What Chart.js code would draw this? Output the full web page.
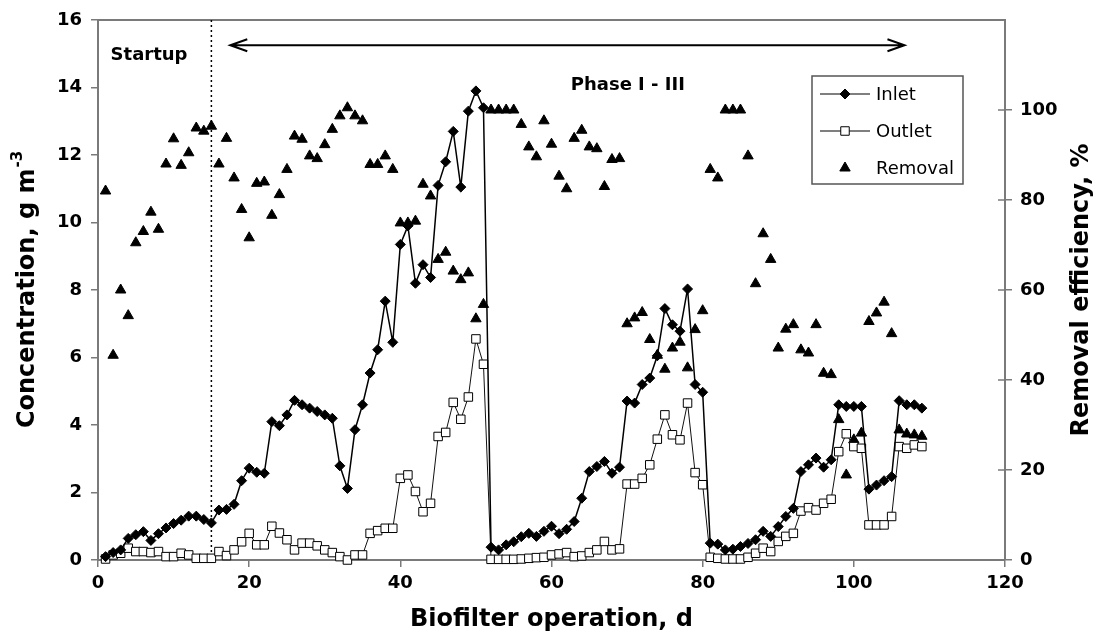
<!DOCTYPE html>
<html>
<head>
<meta charset="utf-8">
<script src="https://cdn.jsdelivr.net/npm/chart.js@4.4.0/dist/chart.umd.min.js"></script>
<style>
  html, body { margin: 0; padding: 0; background: #fff; }
</style>
</head>
<body>
<canvas id="chart" width="1099" height="641"></canvas>
<script>
// operation day of each sample
var days = [
    1, 2, 3, 4, 5, 6, 7, 8, 9, 10, 11, 12, 13, 14, 15, 16, 17, 18, 19, 20,
    21, 22, 23, 24, 25, 26, 27, 28, 29, 30, 31, 32, 33, 34, 35, 36, 37, 38, 39, 40,
    41, 42, 43, 44, 45, 46, 47, 48, 49, 50, 51, 52, 53, 54, 55, 56, 57, 58, 59, 60,
    61, 62, 63, 64, 65, 66, 67, 68, 69, 70, 71, 72, 73, 74, 75, 76, 77, 78, 79, 80,
    81, 82, 83, 84, 85, 86, 87, 88, 89, 90, 91, 92, 93, 94, 95, 96, 97, 98, 99, 100,
    101, 102, 103, 104, 105, 106, 107, 108, 109
];
// inlet concentration, g m-3
var inletConc = [
    0.1, 0.22, 0.3, 0.64, 0.75, 0.84, 0.58, 0.78, 0.95, 1.08, 1.18, 1.3, 1.3, 1.2, 1.1, 1.48, 1.5, 1.65, 2.35, 2.72,
    2.6, 2.57, 4.1, 3.98, 4.3, 4.73, 4.6, 4.5, 4.4, 4.3, 4.2, 2.79, 2.12, 3.86, 4.6, 5.54, 6.23, 7.67, 6.45, 9.35,
    9.9, 8.2, 8.75, 8.37, 11.1, 11.8, 12.7, 11.05, 13.3, 13.9, 13.4, 0.38, 0.3, 0.45, 0.54, 0.69, 0.79, 0.7, 0.85, 1.0,
    0.78, 0.91, 1.14, 1.83, 2.62, 2.77, 2.92, 2.57, 2.75, 4.71, 4.65, 5.2, 5.39, 6.05, 7.45, 6.97, 6.78, 8.03, 5.2, 4.97,
    0.5, 0.47, 0.3, 0.32, 0.4, 0.49, 0.6, 0.85, 0.7, 0.99, 1.29, 1.53, 2.62, 2.82, 3.02, 2.75, 2.97, 4.6, 4.55, 4.55,
    4.55, 2.1, 2.22, 2.35, 2.47, 4.72, 4.6, 4.6, 4.5
];
// outlet concentration, g m-3
var outletConc = [
    0.03, 0.15, 0.2, 0.35, 0.25, 0.25, 0.22, 0.25, 0.1, 0.1, 0.2, 0.15, 0.05, 0.05, 0.05, 0.25, 0.13, 0.3, 0.54, 0.79,
    0.45, 0.45, 1.0, 0.8, 0.6, 0.3, 0.5, 0.5, 0.42, 0.3, 0.22, 0.1, 0.0, 0.15, 0.15, 0.79, 0.87, 0.94, 0.94, 2.42,
    2.52, 2.03, 1.43, 1.68, 3.66, 3.78, 4.67, 4.17, 4.83, 6.55, 5.8, 0.02, 0.02, 0.02, 0.02, 0.03, 0.05, 0.07, 0.08, 0.15,
    0.18, 0.22, 0.1, 0.12, 0.22, 0.3, 0.55, 0.3, 0.33, 2.25, 2.25, 2.42, 2.82, 3.58, 4.3, 3.71, 3.56, 4.65, 2.59, 2.23,
    0.08, 0.05, 0.03, 0.03, 0.03, 0.08, 0.2, 0.35, 0.25, 0.55, 0.7, 0.79, 1.45, 1.55, 1.48, 1.68, 1.8, 3.21, 3.74, 3.36,
    3.31, 1.04, 1.04, 1.04, 1.29, 3.36, 3.31, 3.41, 3.36
];
// removal efficiency, %
var removalEff = [
    82, 45.5, 60, 54.3, 70.5, 73, 77.3, 73.5, 88, 93.6, 87.7, 90.5, 96, 95.3, 96.4, 88, 93.7, 84.9, 77.9, 71.6,
    83.7, 84, 76.6, 81.2, 86.8, 94.2, 93.5, 89.8, 89.2, 92.3, 95.7, 98.7, 100.5, 98.7, 97.6, 87.9, 87.9, 89.8, 86.8, 74.9,
    74.9, 75.3, 83.5, 80.9, 66.8, 68.4, 64.2, 62.3, 63.8, 53.6, 56.8, 100, 100, 100, 100, 96.8, 91.8, 89.6, 97.6, 92.4,
    85.3, 82.5, 93.7, 95.5, 91.8, 91.4, 83, 89, 89.2, 52.5, 53.8, 55, 49, 45.5, 42.4, 47.1, 48.4, 42.7, 51.2, 55.4,
    86.8, 84.9, 100, 100, 100, 89.8, 61.4, 72.5, 66.8, 47.1, 51.3, 52.3, 46.7, 46, 52.3, 41.5, 41.2, 31.2, 18.9, 26.7,
    28.2, 53, 54.9, 57.3, 50.3, 28.9, 28, 27.8, 27.5
];

var dayTicks = [0, 20, 40, 60, 80, 100, 120];
var concTicks = [0, 2, 4, 6, 8, 10, 12, 14, 16];
var effTicks = [0, 20, 40, 60, 80, 100];

var startupEnd = 15;          // dotted line, day
var phaseFrom = 17.5, phaseTo = 106.7, phaseLevel = 15.25;

var AXIS = '#7a7a7a';
var FONT = "'DejaVu Sans', sans-serif";

function points(vals) {
    return days.map(function (d, i) { return { x: d, y: vals[i] }; });
}
function useTicks(list) {
    return function (scale) {
        scale.ticks = list.map(function (v) { return { value: v }; });
    };
}

function marker(ctx, style, x, y, r, fill) {
    ctx.beginPath();
    if (style === 'rectRot') {
        ctx.moveTo(x, y - r); ctx.lineTo(x + r, y); ctx.lineTo(x, y + r); ctx.lineTo(x - r, y);
    } else if (style === 'rect') {
        var s = r * Math.SQRT1_2;
        ctx.rect(x - s, y - s, 2 * s, 2 * s);
    } else {
        ctx.moveTo(x, y - r);
        ctx.lineTo(x + r * 0.866, y + r * 0.5);
        ctx.lineTo(x - r * 0.866, y + r * 0.5);
    }
    ctx.closePath();
    ctx.fillStyle = fill;
    ctx.fill();
    ctx.lineWidth = 1;
    ctx.strokeStyle = '#000';
    ctx.stroke();
}

var annotations = {
    id: 'annotations',
    beforeDatasetsDraw: function (chart) {
        var ctx = chart.ctx, a = chart.chartArea;
        var x = chart.scales.x, y = chart.scales.y, y1 = chart.scales.y1;
        ctx.save();
        // top frame line
        ctx.strokeStyle = AXIS;
        ctx.lineWidth = 2;
        ctx.beginPath();
        ctx.moveTo(a.left, a.top);
        ctx.lineTo(a.right, a.top);
        ctx.stroke();
        // right axis ticks cross the axis
        ctx.lineWidth = 1.5;
        effTicks.forEach(function (v) {
            var py = y1.getPixelForValue(v);
            ctx.beginPath();
            ctx.moveTo(a.right - 7, py);
            ctx.lineTo(a.right, py);
            ctx.stroke();
        });
        // end of startup
        var px = x.getPixelForValue(startupEnd);
        ctx.strokeStyle = '#000';
        ctx.lineWidth = 1.5;
        ctx.setLineDash([2, 3]);
        ctx.beginPath();
        ctx.moveTo(px, a.top);
        ctx.lineTo(px, a.bottom);
        ctx.stroke();
        ctx.setLineDash([]);
        // phase arrow
        var ax0 = x.getPixelForValue(phaseFrom), ax1 = x.getPixelForValue(phaseTo);
        var ay = y.getPixelForValue(phaseLevel);
        ctx.lineWidth = 2;
        ctx.beginPath();
        ctx.moveTo(ax0, ay); ctx.lineTo(ax1, ay);
        ctx.moveTo(ax0 + 17, ay - 6); ctx.lineTo(ax0, ay); ctx.lineTo(ax0 + 17, ay + 6);
        ctx.moveTo(ax1 - 17, ay - 6); ctx.lineTo(ax1, ay); ctx.lineTo(ax1 - 17, ay + 6);
        ctx.stroke();
        // texts
        ctx.fillStyle = '#000';
        ctx.font = 'bold 18px ' + FONT;
        ctx.textAlign = 'center';
        ctx.textBaseline = 'middle';
        ctx.fillText('Startup', x.getPixelForValue(6.75), y.getPixelForValue(14.96));
        ctx.fillText('Phase I - III', x.getPixelForValue(70.1), y.getPixelForValue(14.07));
        ctx.restore();
    },
    afterDraw: function (chart) {
        var ctx = chart.ctx, a = chart.chartArea;
        ctx.save();
        // legend
        var bx = 812, by = 76, bw = 151, bh = 108;
        ctx.fillStyle = '#fff';
        ctx.fillRect(bx, by, bw, bh);
        ctx.strokeStyle = '#555';
        ctx.lineWidth = 1.5;
        ctx.strokeRect(bx, by, bw, bh);
        var rows = [
            { label: chart.data.datasets[0].label, style: 'rectRot', fill: '#000', line: true, r: 5, y: 94 },
            { label: chart.data.datasets[1].label, style: 'rect', fill: '#fff', line: true, r: 6, y: 131 },
            { label: chart.data.datasets[2].label, style: 'triangle', fill: '#000', line: false, r: 6, y: 168 }
        ];
        rows.forEach(function (row) {
            if (row.line) {
                ctx.strokeStyle = '#000';
                ctx.lineWidth = 1.2;
                ctx.beginPath();
                ctx.moveTo(820, row.y); ctx.lineTo(870, row.y);
                ctx.stroke();
            }
            marker(ctx, row.style, 845, row.y, row.r, row.fill);
            ctx.fillStyle = '#000';
            ctx.font = '18px ' + FONT;
            ctx.textAlign = 'left';
            ctx.textBaseline = 'middle';
            ctx.fillText(row.label, 876, row.y + 1);
        });
        // axis titles
        var cy = (a.top + a.bottom) / 2;
        ctx.fillStyle = '#000';
        ctx.textBaseline = 'middle';
        ctx.font = 'bold 24px ' + FONT;
        var main = 'Concentration, g m', sup = '-3';
        var w1 = ctx.measureText(main).width;
        ctx.font = 'bold 15px ' + FONT;
        var w2 = ctx.measureText(sup).width;
        ctx.save();
        ctx.translate(28, cy);
        ctx.rotate(-Math.PI / 2);
        ctx.textAlign = 'left';
        ctx.font = 'bold 24px ' + FONT;
        ctx.fillText(main, -(w1 + w2) / 2, 0);
        ctx.font = 'bold 15px ' + FONT;
        ctx.fillText(sup, -(w1 + w2) / 2 + w1 + 1, -10);
        ctx.restore();

        ctx.save();
        ctx.translate(1082, cy);
        ctx.rotate(-Math.PI / 2);
        ctx.textAlign = 'center';
        ctx.font = 'bold 24px ' + FONT;
        ctx.fillText('Removal efficiency, %', 0, 0);
        ctx.restore();

        ctx.textAlign = 'center';
        ctx.font = 'bold 24px ' + FONT;
        ctx.fillText('Biofilter operation, d', (a.left + a.right) / 2, 620);
        ctx.restore();
    }
};

var axisGrid = { display: true, drawOnChartArea: false, drawTicks: true, tickLength: 7, color: AXIS, lineWidth: 1.5 };
var axisBorder = { display: true, color: AXIS, width: 2 };
var tickFont = { family: FONT, size: 18, weight: 'bold' };

window.onload = function () {
    var ctx = document.getElementById('chart').getContext('2d');
    window.biofilterChart = new Chart(ctx, {
        type: 'line',
        data: {
            datasets: [{
                label: 'Inlet',
                data: points(inletConc),
                yAxisID: 'y',
                borderColor: '#000',
                borderWidth: 1.5,
                pointStyle: 'rectRot',
                pointRadius: 5,
                pointBackgroundColor: '#000',
                pointBorderColor: '#000',
                pointBorderWidth: 1,
                tension: 0,
                clip: false
            }, {
                label: 'Outlet',
                data: points(outletConc),
                yAxisID: 'y',
                borderColor: '#111',
                borderWidth: 1,
                pointStyle: 'rect',
                pointRadius: 6,
                pointBackgroundColor: '#fff',
                pointBorderColor: '#000',
                pointBorderWidth: 1,
                tension: 0,
                clip: false
            }, {
                label: 'Removal',
                data: points(removalEff),
                yAxisID: 'y1',
                showLine: false,
                pointStyle: 'triangle',
                pointRadius: 6,
                pointBackgroundColor: '#000',
                pointBorderColor: '#000',
                pointBorderWidth: 1,
                clip: false
            }]
        },
        options: {
            responsive: false,
            animation: false,
            layout: { padding: { top: 20, left: 0, right: 0, bottom: 0 } },
            plugins: {
                legend: { display: false },
                tooltip: { enabled: false }
            },
            scales: {
                x: {
                    type: 'linear',
                    min: 0,
                    max: 120,
                    afterBuildTicks: useTicks(dayTicks),
                    afterFit: function (s) { s.height = 81; },
                    ticks: { font: tickFont, color: '#000', padding: 6, maxRotation: 0 },
                    grid: axisGrid,
                    border: axisBorder
                },
                y: {
                    position: 'left',
                    min: 0,
                    max: 16,
                    afterBuildTicks: useTicks(concTicks),
                    afterFit: function (s) { s.width = 98; },
                    ticks: { font: tickFont, color: '#000', padding: 9 },
                    grid: axisGrid,
                    border: axisBorder
                },
                y1: {
                    position: 'right',
                    min: 0,
                    max: 120,
                    afterBuildTicks: useTicks(effTicks),
                    afterFit: function (s) { s.width = 94; },
                    ticks: { font: tickFont, color: '#000', padding: 8 },
                    grid: axisGrid,
                    border: axisBorder
                }
            }
        },
        plugins: [annotations]
    });
};
</script>
</body>
</html>
